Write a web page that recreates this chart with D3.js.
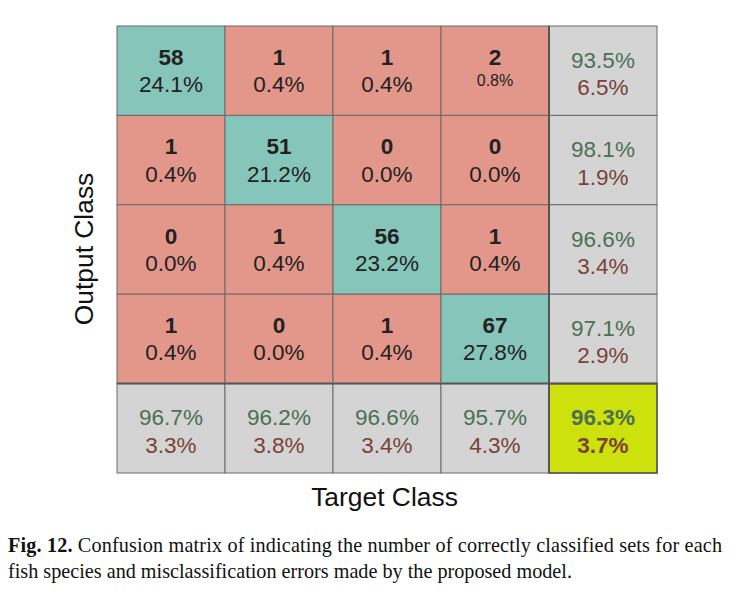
<!DOCTYPE html>
<html><head><meta charset="utf-8">
<script src="https://cdn.jsdelivr.net/npm/d3@7"></script>
<style>body{margin:0;background:#fff;} svg{display:block;}</style>
</head><body>
<script>
const classes = ["1","2","3","4"];
// counts[row=output][col=target]
const counts = [
  [58, 1, 1, 2],
  [1, 51, 0, 0],
  [0, 1, 56, 1],
  [1, 0, 1, 67]
];
const cellPct = [
  ["24.1%","0.4%","0.4%","0.8%"],
  ["0.4%","21.2%","0.0%","0.0%"],
  ["0.0%","0.4%","23.2%","0.4%"],
  ["0.4%","0.0%","0.4%","27.8%"]
];
const rowCorrect = ["93.5%","98.1%","96.6%","97.1%"];
const rowWrong = ["6.5%","1.9%","3.4%","2.9%"];
const colCorrect = ["96.7%","96.2%","96.6%","95.7%"];
const colWrong = ["3.3%","3.8%","3.4%","4.3%"];
const totalCorrect = "96.3%", totalWrong = "3.7%";

const W = 736, H = 608;
const svg = d3.select("body").append("svg").attr("width", W).attr("height", H);
const idx = [0,1,2,3,4];
const x = d3.scaleBand().domain(idx).range([117, 657]);
const y = d3.scaleBand().domain(idx).range([26, 473]);
const font = "Liberation Sans, Arial, sans-serif";

const cells = [];
for (let r = 0; r < 5; r++) for (let c = 0; c < 5; c++) cells.push({r, c});
const fill = d => {
  if (d.r === 4 && d.c === 4) return "#CDE10C";
  if (d.r === 4 || d.c === 4) return "#D4D4D4";
  return d.r === d.c ? "#86C5BA" : "#E3978A";
};
svg.selectAll("rect.cell").data(cells).join("rect")
  .attr("x", d => x(d.c)).attr("y", d => y(d.r))
  .attr("width", x.bandwidth()).attr("height", y.bandwidth())
  .attr("fill", fill).attr("stroke", "#6a6a6a").attr("stroke-width", 1);

// thicker separators
svg.append("line").attr("x1", x(4)).attr("x2", x(4)).attr("y1", y(0)).attr("y2", 473)
  .attr("stroke", "#555").attr("stroke-width", 2);
svg.append("line").attr("x1", 117).attr("x2", 657).attr("y1", y(4)).attr("y2", y(4))
  .attr("stroke", "#555").attr("stroke-width", 2);
svg.append("rect").attr("x", x(4)).attr("y", y(4)).attr("width", x.bandwidth()).attr("height", y.bandwidth())
  .attr("fill", "none").attr("stroke", "#555").attr("stroke-width", 1.5);

const cx = c => x(c) + x.bandwidth() / 2;
const cy = r => y(r) + y.bandwidth() / 2;
const FS = 22.5;

cells.forEach(d => {
  const g = svg.append("g").attr("font-family", font).attr("text-anchor", "middle");
  if (d.r < 4 && d.c < 4) {
    g.append("text").attr("x", cx(d.c)).attr("y", cy(d.r) - 6)
      .attr("font-size", FS).attr("font-weight", "bold").attr("fill", "#222")
      .text(counts[d.r][d.c]);
    const small = (d.r === 0 && d.c === 3);
    g.append("text").attr("x", cx(d.c)).attr("y", small ? cy(d.r) + 15.5 : cy(d.r) + 21.5)
      .attr("font-size", small ? 16 : FS).attr("fill", "#222")
      .text(cellPct[d.r][d.c]);
  } else {
    let a, b;
    if (d.r === 4 && d.c === 4) { a = totalCorrect; b = totalWrong; }
    else if (d.c === 4) { a = rowCorrect[d.r]; b = rowWrong[d.r]; }
    else { a = colCorrect[d.c]; b = colWrong[d.c]; }
    const bold = d.r === 4 && d.c === 4;
    g.append("text").attr("x", cx(d.c)).attr("y", cy(d.r) - 3)
      .attr("font-size", FS).attr("font-weight", bold ? "bold" : "normal").attr("fill", "#4B7052").text(a);
    g.append("text").attr("x", cx(d.c)).attr("y", cy(d.r) + 24.5)
      .attr("font-size", FS).attr("font-weight", bold ? "bold" : "normal").attr("fill", "#7A4238").text(b);
  }
});

svg.append("text").attr("x", 384.5).attr("y", 506).attr("text-anchor", "middle")
  .attr("font-family", font).attr("font-size", 26.4).attr("fill", "#111").text("Target Class");
svg.append("text").attr("transform", "translate(93,249) rotate(-90)").attr("text-anchor", "middle")
  .attr("font-family", font).attr("font-size", 26.4).attr("fill", "#111").text("Output Class");

const cap = svg.append("g").attr("font-family", "Liberation Serif, Times New Roman, serif").attr("font-size", 20.2).attr("fill", "#111");
const t1 = cap.append("text").attr("x", 8).attr("y", 552).attr("textLength", 714).attr("lengthAdjust", "spacing");
t1.append("tspan").attr("font-weight", "bold").text("Fig. 12.");
t1.append("tspan").text(" Confusion matrix of indicating the number of correctly classified sets for each");
cap.append("text").attr("x", 8).attr("y", 578).text("fish species and misclassification errors made by the proposed model.");
</script>
</body></html>
